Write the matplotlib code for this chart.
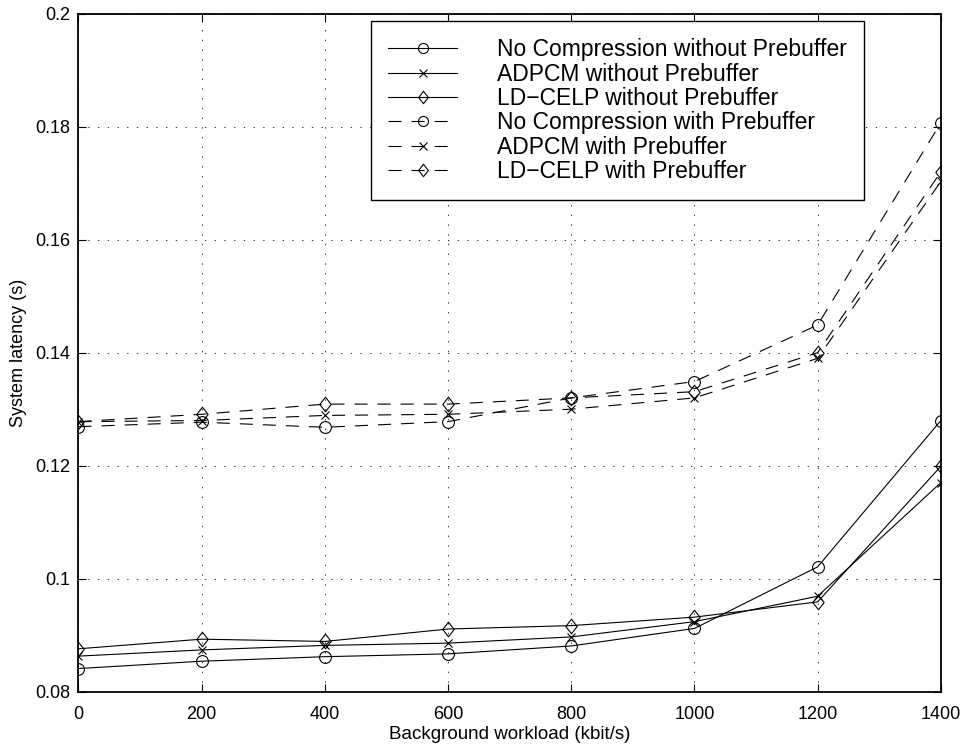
import matplotlib
matplotlib.use('Agg')
import matplotlib.pyplot as plt
from matplotlib.path import Path

plt.rcParams['font.family'] = ['Liberation Sans', 'DejaVu Sans']
plt.rcParams['lines.scale_dashes'] = False

workload = [0, 200, 400, 600, 800, 1000, 1200, 1400]

nocomp_nopre = [0.0841, 0.0854, 0.0862, 0.0867, 0.0881, 0.0912, 0.1021, 0.1280]
adpcm_nopre = [0.0863, 0.0874, 0.0882, 0.0886, 0.0897, 0.0924, 0.0969, 0.1170]
ldcelp_nopre = [0.0876, 0.0893, 0.0889, 0.0911, 0.0917, 0.0932, 0.0959, 0.1199]
nocomp_pre = [0.1269, 0.1277, 0.1268, 0.1278, 0.1320, 0.1349, 0.1449, 0.1807]
adpcm_pre = [0.1278, 0.1280, 0.1289, 0.1291, 0.1300, 0.1320, 0.1390, 0.1703]
ldcelp_pre = [0.1278, 0.1291, 0.1309, 0.1309, 0.1320, 0.1331, 0.1400, 0.1720]

# matlab style diamond, a bit wider than matplotlib's 'd'
diamond = Path([(0, 1), (0.78, 0), (0, -1), (-0.78, 0), (0, 1)],
               [Path.MOVETO, Path.LINETO, Path.LINETO, Path.LINETO, Path.CLOSEPOLY])

series = [
    (nocomp_nopre, 'o', '-', 'No Compression without Prebuffer'),
    (adpcm_nopre, 'x', '-', 'ADPCM without Prebuffer'),
    (ldcelp_nopre, diamond, '-', 'LD\u2212CELP without Prebuffer'),
    (nocomp_pre, 'o', '--', 'No Compression with Prebuffer'),
    (adpcm_pre, 'x', '--', 'ADPCM with Prebuffer'),
    (ldcelp_pre, diamond, '--', 'LD\u2212CELP with Prebuffer'),
]
sizes = {'o': 8.5, 'x': 6}

fig = plt.figure(figsize=(9.62, 7.47), dpi=100)
ax = fig.add_axes([0.0816, 0.074, 0.8964, 0.9077])

for vals, mk, ls, lab in series:
    ms = sizes.get(mk, 10.5) if isinstance(mk, str) else 10.5
    line, = ax.plot(workload, vals, color='black', linewidth=0.8, linestyle=ls,
                    marker=mk, markersize=ms,
                    markerfacecolor='none', markeredgecolor='black',
                    markeredgewidth=0.8, label=lab)
    if ls == '--':
        line.set_dashes((9.4, 7.2))

ax.set_xlim(0, 1400)
ax.set_ylim(0.08, 0.2)
ax.set_xticks(workload)
ax.set_yticks([0.08, 0.1, 0.12, 0.14, 0.16, 0.18, 0.2])
ax.set_yticklabels(['0.08', '0.1', '0.12', '0.14', '0.16', '0.18', '0.2'])
ax.grid(True, color='black', linestyle=(0, (1, 6)), linewidth=0.7, alpha=0.8)
ax.tick_params(direction='in', top=True, right=True, length=6, width=0.8,
               labelsize=13, pad=6)
ax.tick_params(axis='x', pad=10)
for sp in ax.spines.values():
    sp.set_linewidth(1.3)

ax.set_xlabel('Background workload (kbit/s)', fontsize=13.5, labelpad=2.5)
ax.set_ylabel('System latency (s)', fontsize=13, labelpad=6)

leg = ax.legend(loc='upper right', bbox_to_anchor=(0.911, 0.989), fontsize=16.5,
                frameon=True, fancybox=False, edgecolor='black', framealpha=1,
                handlelength=3.0, handletextpad=1.75, labelspacing=0.06,
                borderpad=0.75, borderaxespad=0, markerscale=0.85)
leg.get_frame().set_linewidth(1.0)

fig.savefig('out.png', dpi=100)
